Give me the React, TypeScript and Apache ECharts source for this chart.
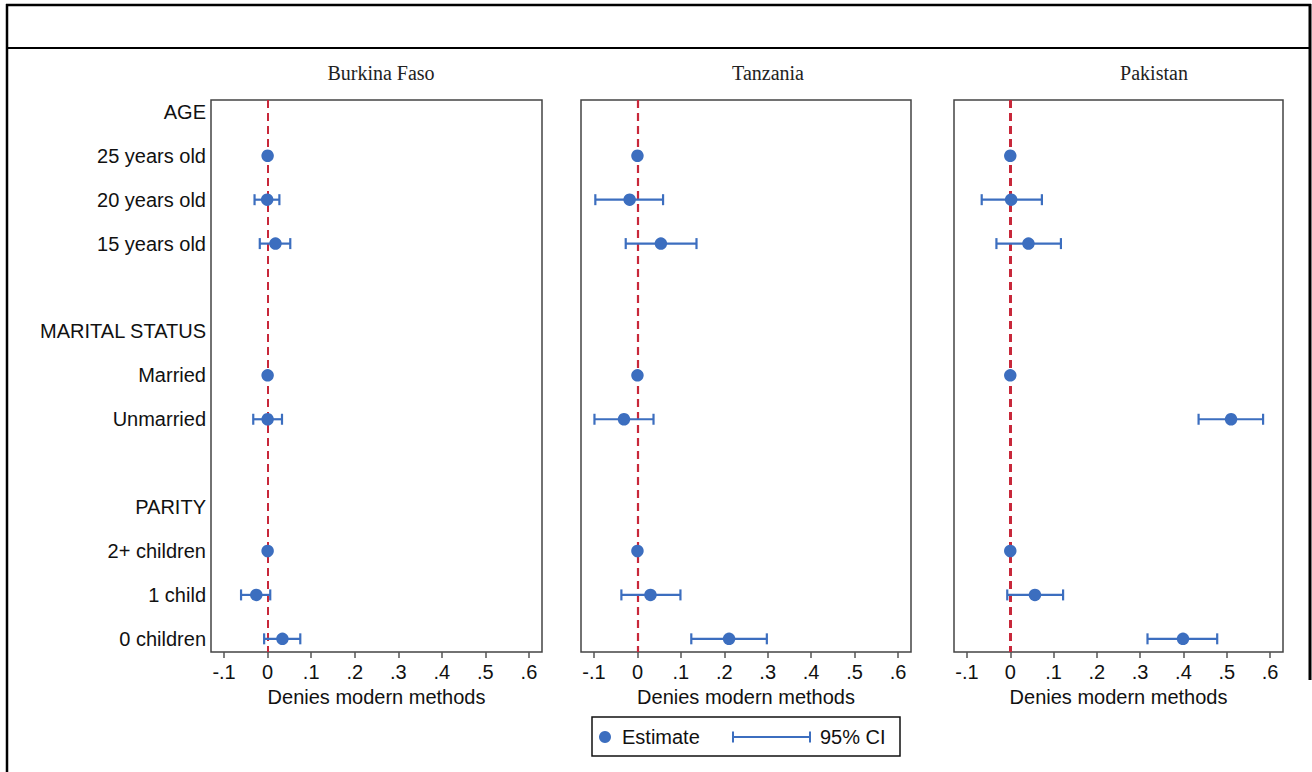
import React, { useEffect, useRef } from "react";
import * as echarts from "echarts";

const rowLabels = [
  "AGE", "25 years old", "20 years old", "15 years old", "",
  "MARITAL STATUS", "Married", "Unmarried", "",
  "PARITY", "2+ children", "1 child", "0 children",
];

const countries = ["Burkina Faso", "Tanzania", "Pakistan"];

const burkinaEst = [null, 0, -0.001, 0.018, null, null, 0, 0.0, null, null, 0, -0.026, 0.034];
const burkinaLo = [null, null, -0.03, -0.018, null, null, null, -0.033, null, null, null, -0.061, -0.008];
const burkinaHi = [null, null, 0.027, 0.052, null, null, null, 0.033, null, null, null, 0.006, 0.075];

const tanzaniaEst = [null, 0, -0.018, 0.054, null, null, 0, -0.031, null, null, 0, 0.03, 0.211];
const tanzaniaLo = [null, null, -0.097, -0.027, null, null, null, -0.099, null, null, null, -0.037, 0.124];
const tanzaniaHi = [null, null, 0.059, 0.136, null, null, null, 0.037, null, null, null, 0.099, 0.298];

const pakistanEst = [null, 0, 0.002, 0.042, null, null, 0, 0.51, null, null, 0, 0.057, 0.399];
const pakistanLo = [null, null, -0.066, -0.032, null, null, null, 0.435, null, null, null, -0.007, 0.317];
const pakistanHi = [null, null, 0.073, 0.117, null, null, null, 0.584, null, null, null, 0.122, 0.478];

const tickValues = [-0.1, 0, 0.1, 0.2, 0.3, 0.4, 0.5, 0.6];
const tickLabels = ["-.1", "0", ".1", ".2", ".3", ".4", ".5", ".6"];

const xAxisTitle = "Denies modern methods";
const legendLabels = ["Estimate", "95% CI"];

const BLUE = "#3c6ebf";
const RED = "#c8283a";
const SANS = "'Liberation Sans', Arial, Helvetica, sans-serif";
const SERIF = "'Liberation Serif', 'Times New Roman', serif";

const panelData = [
  { est: burkinaEst, lo: burkinaLo, hi: burkinaHi },
  { est: tanzaniaEst, lo: tanzaniaLo, hi: tanzaniaHi },
  { est: pakistanEst, lo: pakistanLo, hi: pakistanHi },
];

const gridLayout = [
  { left: 211, width: 331 },
  { left: 581, width: 330 },
  { left: 954, width: 329 },
];
const titleX = [381, 768, 1154];
const refLineWidth = [2, 2.2, 3];

export default function App() {
  const ref = useRef<HTMLDivElement>(null);

  useEffect(() => {
    if (!ref.current) return;
    const chart = echarts.init(ref.current, null, { renderer: "svg" });

    const grids = gridLayout.map((g) => ({
      left: g.left,
      width: g.width,
      top: 100,
      height: 552,
      show: true,
      borderColor: "#444",
      borderWidth: 1.5,
      backgroundColor: "#fff",
    }));

    const xAxes = gridLayout.map((_, i) => ({
      type: "value",
      gridIndex: i,
      min: -0.13,
      max: 0.63,
      splitLine: { show: false },
      axisLine: { show: false },
      axisTick: {
        show: true,
        customValues: tickValues,
        length: 6,
        lineStyle: { color: "#555", width: 1.5 },
      },
      axisLabel: {
        customValues: tickValues,
        margin: 10,
        color: "#111",
        fontSize: 20,
        fontFamily: SANS,
        formatter: (v: number) => {
          const idx = tickValues.findIndex((t) => Math.abs(t - v) < 1e-9);
          return idx >= 0 ? tickLabels[idx] : "";
        },
      },
      name: xAxisTitle,
      nameLocation: "middle",
      nameGap: 32,
      nameTextStyle: { color: "#111", fontSize: 20, fontFamily: SANS },
    }));

    const rowValues = rowLabels.map((_, i) => i + 1);
    const yAxes = gridLayout.map((_, i) => ({
      type: "value",
      gridIndex: i,
      inverse: true,
      min: 0.73,
      max: 13.3,
      splitLine: { show: false },
      axisLine: { show: false },
      axisTick: { show: false },
      axisLabel: {
        show: i === 0,
        customValues: rowValues,
        margin: 5,
        color: "#111",
        fontSize: 20,
        fontFamily: SANS,
        formatter: (v: number) => rowLabels[Math.round(v) - 1] ?? "",
      },
    }));

    const series: any[] = [];
    panelData.forEach((p, i) => {
      const ciData: number[][] = [];
      const estData: number[][] = [];
      p.est.forEach((e, r) => {
        if (e !== null) estData.push([e as number, r + 1]);
        const lo = p.lo[r];
        const hi = p.hi[r];
        if (lo !== null && hi !== null) ciData.push([r + 1, lo as number, hi as number]);
      });
      series.push({
        name: legendLabels[1],
        type: "custom",
        xAxisIndex: i,
        yAxisIndex: i,
        clip: false,
        z: 2,
        data: ciData,
        encode: { x: [1, 2], y: 0 },
        renderItem: (params: any, api: any) => {
          const row = api.value(0);
          const a = api.coord([api.value(1), row]);
          const b = api.coord([api.value(2), row]);
          const cap = 5.5;
          const style = { stroke: BLUE, lineWidth: 2.2, fill: "none" };
          return {
            type: "group",
            children: [
              { type: "line", shape: { x1: a[0], y1: a[1], x2: b[0], y2: b[1] }, style },
              { type: "line", shape: { x1: a[0], y1: a[1] - cap, x2: a[0], y2: a[1] + cap }, style },
              { type: "line", shape: { x1: b[0], y1: b[1] - cap, x2: b[0], y2: b[1] + cap }, style },
            ],
          };
        },
        markLine: {
          silent: true,
          symbol: ["none", "none"],
          label: { show: false },
          lineStyle: { color: RED, type: [8, 5], width: refLineWidth[i] },
          data: [{ xAxis: 0 }],
          z: 1,
        },
      });
      series.push({
        name: legendLabels[0],
        type: "scatter",
        xAxisIndex: i,
        yAxisIndex: i,
        symbol: "circle",
        symbolSize: 12.5,
        itemStyle: { color: BLUE, opacity: 1 },
        z: 4,
        data: estData,
      });
    });

    const graphic: any[] = [
      // outer frame
      { type: "line", shape: { x1: 7, y1: 4, x2: 7, y2: 772 }, style: { stroke: "#000", lineWidth: 2.5 } },
      { type: "line", shape: { x1: 6, y1: 5, x2: 1311, y2: 5 }, style: { stroke: "#000", lineWidth: 2.5 } },
      { type: "line", shape: { x1: 7, y1: 48, x2: 1310, y2: 48 }, style: { stroke: "#000", lineWidth: 2 } },
      { type: "line", shape: { x1: 1310, y1: 4, x2: 1310, y2: 680 }, style: { stroke: "#000", lineWidth: 3 } },
      // panel titles
      ...countries.map((c, i) => ({
        type: "text",
        x: titleX[i],
        y: 73,
        style: {
          text: c,
          fill: "#222",
          font: `20px ${SERIF}`,
          textAlign: "center",
          textVerticalAlign: "middle",
        },
      })),
      // legend
      { type: "rect", shape: { x: 592, y: 717, width: 308, height: 39 }, style: { fill: "#fff", stroke: "#111", lineWidth: 1.5 } },
      { type: "circle", shape: { cx: 605, cy: 737, r: 6 }, style: { fill: BLUE } },
      {
        type: "text", x: 622, y: 737,
        style: { text: legendLabels[0], fill: "#111", font: `20px ${SANS}`, textVerticalAlign: "middle" },
      },
      { type: "line", shape: { x1: 733, y1: 737, x2: 810, y2: 737 }, style: { stroke: BLUE, lineWidth: 2 } },
      { type: "line", shape: { x1: 733, y1: 731.5, x2: 733, y2: 742.5 }, style: { stroke: BLUE, lineWidth: 2 } },
      { type: "line", shape: { x1: 810, y1: 731.5, x2: 810, y2: 742.5 }, style: { stroke: BLUE, lineWidth: 2 } },
      {
        type: "text", x: 820, y: 737,
        style: { text: legendLabels[1], fill: "#111", font: `20px ${SANS}`, textVerticalAlign: "middle" },
      },
    ];

    chart.setOption({
      animation: false,
      backgroundColor: "#fff",
      grid: grids,
      xAxis: xAxes,
      yAxis: yAxes,
      series,
      graphic,
    });

    return () => chart.dispose();
  }, []);

  return (
    <div
      ref={ref}
      style={{ position: "fixed", left: 0, top: 0, width: 1312, height: 772, background: "#fff" }}
    />
  );
}
